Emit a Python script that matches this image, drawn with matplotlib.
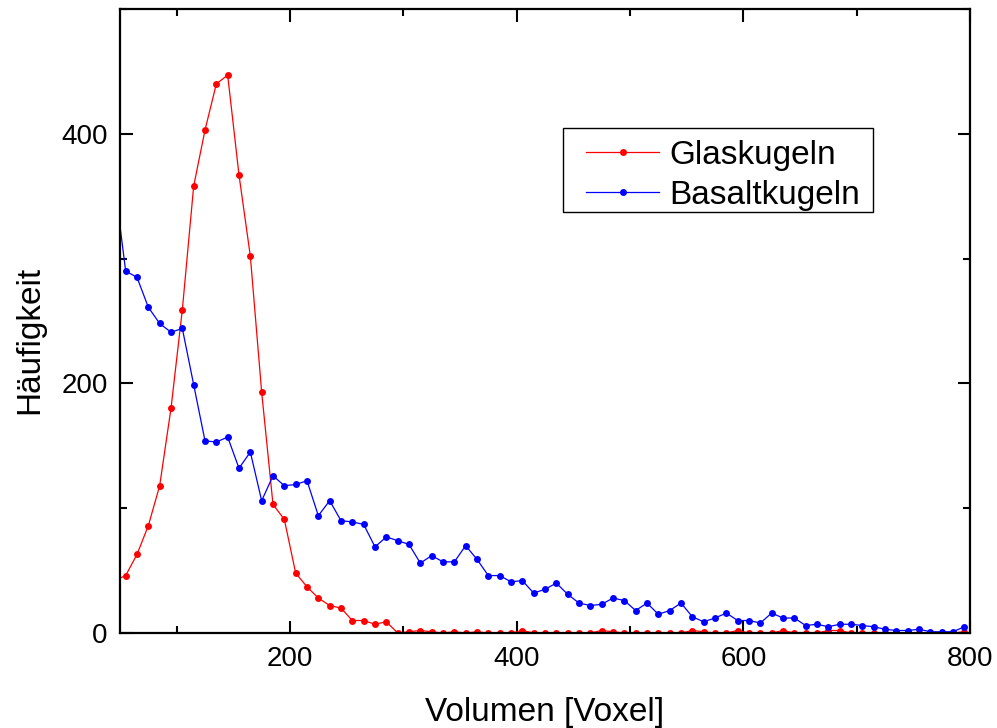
import matplotlib
matplotlib.use("Agg")
import matplotlib.pyplot as plt
from matplotlib.ticker import MultipleLocator
from matplotlib.patches import Rectangle

plt.rcParams['font.family'] = ['Liberation Sans', 'DejaVu Sans']

volumen = list(range(45, 800, 10))

glaskugeln = [42, 46, 63, 86, 118, 180, 259, 358, 403, 440, 447, 367, 302, 193, 103, 91,
              48, 37, 28, 22, 20, 10, 10, 7, 9, 0, 1, 2, 1, 0, 1, 0, 1, 0, 0,
              0, 2, 0, 0, 0, 0, 0, 0, 2, 1, 0, 0, 0, 0, 0, 0, 2, 1, 0, 0, 2,
              0, 0, 0, 2, 0, 0, 0, 2, 2, 0, 0, 0, 0, 0, 0, 0, 0, 0, 0, 1]

basaltkugeln = [362, 290, 285, 261, 248, 241, 244, 199, 154, 153, 157, 132, 145, 106, 126, 118,
                119, 122, 94, 106, 90, 89, 87, 69, 77, 74, 71, 56, 62, 57, 57, 70,
                59, 46, 46, 41, 42, 32, 35, 40, 31, 24, 22, 23, 28, 26, 18, 24,
                15, 18, 24, 13, 9, 12, 16, 10, 10, 8, 16, 12, 12, 6, 7, 5,
                7, 7, 6, 5, 3, 2, 2, 3, 1, 1, 1, 5]

W, H = 997, 728
AX_L, AX_R, AX_T, AX_B = 120, 970, 9, 633

fig = plt.figure(figsize=(9.97, 7.28), dpi=100)
ax = fig.add_axes([AX_L/W, 1-AX_B/H, (AX_R-AX_L)/W, (AX_B-AX_T)/H])

def axfrac(px, py):
    return (px-AX_L)/(AX_R-AX_L), (AX_B-py)/(AX_B-AX_T)

ax.plot(volumen, glaskugeln, color='#ff0000', lw=0.9, marker='o', markersize=5,
        markeredgewidth=0, label='Glaskugeln')
ax.plot(volumen, basaltkugeln, color='#0000ff', lw=0.9, marker='o', markersize=5,
        markeredgewidth=0, label='Basaltkugeln')

ax.set_xlim(50, 800)
ax.set_ylim(0, 500)
ax.xaxis.set_major_locator(MultipleLocator(200))
ax.xaxis.set_minor_locator(MultipleLocator(100))
ax.yaxis.set_major_locator(MultipleLocator(200))
ax.yaxis.set_minor_locator(MultipleLocator(100))

ax.tick_params(which='both', direction='in', top=True, right=True, labelsize=20, width=1.5)
ax.tick_params(which='major', length=9, pad=9)
ax.tick_params(which='minor', length=5)
for s in ax.spines.values():
    s.set_linewidth(1.6)

ax.set_xlabel('Volumen [Voxel]', fontsize=24, labelpad=18)
ax.set_ylabel('Häufigkeit', fontsize=24, labelpad=10)
ax.yaxis.set_label_coords(-0.088, 0.47)

# legend frame
x0, y0 = axfrac(563, 212)
x1, y1 = axfrac(873, 128)
ax.add_patch(Rectangle((x0, y0), x1-x0, y1-y0, transform=ax.transAxes,
                       facecolor='white', edgecolor='black', lw=1.0, zorder=4))

lx, ly = axfrac(586, 140)
leg = ax.legend(loc='upper left', bbox_to_anchor=(lx, ly), fontsize=24,
                numpoints=1, frameon=False,
                handlelength=2.2, handletextpad=0.3, borderpad=0.0, labelspacing=0.27,
                borderaxespad=0)
leg.set_zorder(5)

fig.savefig('out.png', dpi=100)
